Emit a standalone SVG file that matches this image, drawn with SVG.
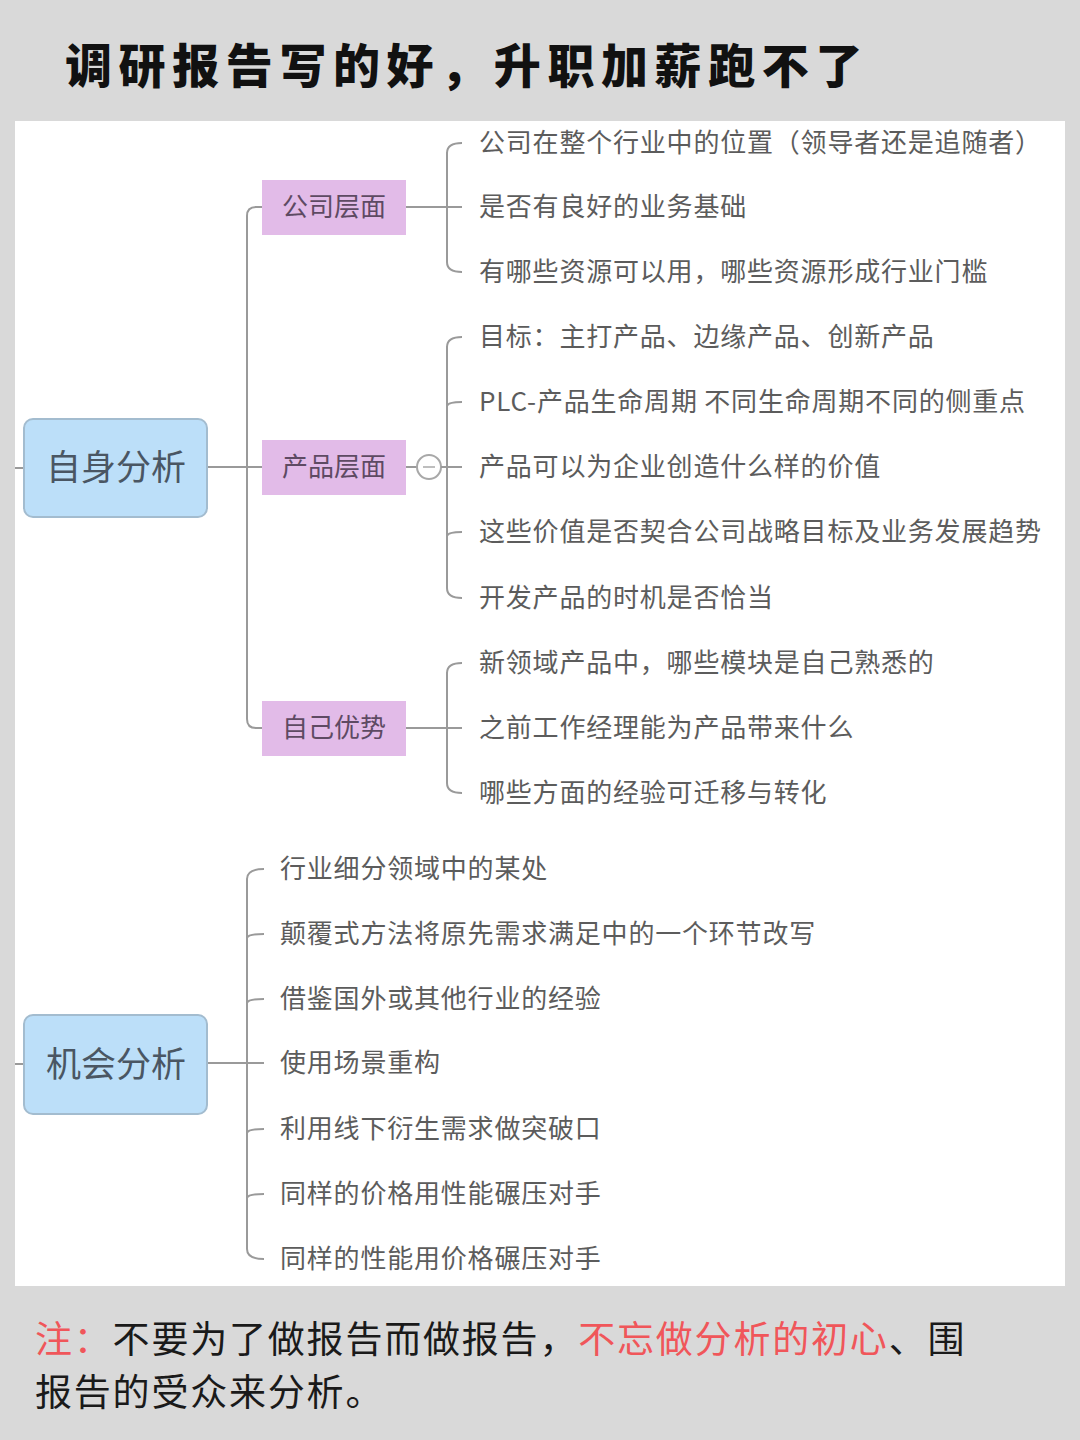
<svg xmlns="http://www.w3.org/2000/svg" width="1080" height="1440" viewBox="0 0 1080 1440">
<style>
.title{font-family:"Noto Sans CJK SC","Noto Sans",sans-serif;font-weight:900;font-size:47px;fill:#111;letter-spacing:6.6px}
.root{fill:#bcdff9;stroke:#a3bccf;stroke-width:2}
.rootT{font-family:"Noto Sans CJK SC","Noto Sans",sans-serif;font-size:35px;fill:#4a5663;text-anchor:middle}
.sub{fill:#e2bbe8}
.subT{font-family:"Noto Sans CJK SC","Noto Sans",sans-serif;font-size:26px;fill:#5e4a63;text-anchor:middle}
.leaf{font-family:"Noto Sans CJK SC","Noto Sans",sans-serif;font-size:26px;fill:#5c5c5c;letter-spacing:0.8px}
.ln{fill:none;stroke:#9a9a9a;stroke-width:2}
.note{font-family:"Noto Sans CJK SC","Noto Sans",sans-serif;font-size:37px;fill:#1a1a1a;letter-spacing:1.8px}
.red{fill:#f0565a}
</style>
<rect x="0" y="0" width="1080" height="1440" fill="#d9d9d9"/>
<rect x="15" y="121" width="1050" height="1165" fill="#ffffff"/>
<text class="title" x="65" y="83">调研报告写的好，升职加薪跑不了</text>

<g id="connectors">
  <path class="ln" d="M15,468 H24"/>
  <path class="ln" d="M207,467 H262"/>
  <path class="ln" d="M262,207 H256 Q247,207 247,216 V719 Q247,728 256,728 H262"/>
  <path class="ln" d="M406,207 H462"/>
  <path class="ln" d="M462,143 Q447,143 447,153 V262 Q447,272 462,272"/>
  <path class="ln" d="M406,467 H417"/>
  <circle cx="429" cy="467" r="12" fill="#fff" stroke="#a8a8a8" stroke-width="2"/>
  <path d="M423,467 H435" stroke="#a8a8a8" stroke-width="1.5"/>
  <path class="ln" d="M441,467 H462"/>
  <path class="ln" d="M462,337 Q447,337 447,347 V588 Q447,598 462,598"/>
  <path class="ln" d="M447,406 Q448,402 462,402 M447,536 Q448,532 462,532"/>
  <path class="ln" d="M406,728 H462"/>
  <path class="ln" d="M462,663 Q447,663 447,673 V783 Q447,793 462,793"/>
  <path class="ln" d="M15,1064 H24"/>
  <path class="ln" d="M207,1063 H264"/>
  <path class="ln" d="M264,869 Q247,869 247,879 V1249 Q247,1259 264,1259"/>
  <path class="ln" d="M247,938 Q248,934 264,934 M247,1003 Q248,999 264,999 M247,1133 Q248,1129 264,1129 M247,1198 Q248,1194 264,1194"/>
</g>

<g id="root-self">
  <rect class="root" x="24" y="419" width="183" height="98" rx="9"/>
  <text class="rootT" x="116" y="480">自身分析</text>
</g>
<g id="sub-company">
  <rect class="sub" x="262" y="180" width="144" height="55"/>
  <text class="subT" x="334" y="216">公司层面</text>
</g>
<g id="sub-product">
  <rect class="sub" x="262" y="440" width="144" height="55"/>
  <text class="subT" x="334" y="476">产品层面</text>
</g>
<g id="sub-self">
  <rect class="sub" x="262" y="701" width="144" height="55"/>
  <text class="subT" x="334" y="737">自己优势</text>
</g>
<g id="leaves-company">
  <text class="leaf" x="479" y="152">公司在整个行业中的位置（领导者还是追随者）</text>
  <text class="leaf" x="479" y="216">是否有良好的业务基础</text>
  <text class="leaf" x="479" y="281">有哪些资源可以用，哪些资源形成行业门槛</text>
</g>
<g id="leaves-product">
  <text class="leaf" x="479" y="346">目标：主打产品、边缘产品、创新产品</text>
  <text class="leaf" x="479" y="411">PLC-产品生命周期 不同生命周期不同的侧重点</text>
  <text class="leaf" x="479" y="476">产品可以为企业创造什么样的价值</text>
  <text class="leaf" x="479" y="541">这些价值是否契合公司战略目标及业务发展趋势</text>
  <text class="leaf" x="479" y="607">开发产品的时机是否恰当</text>
</g>
<g id="leaves-self">
  <text class="leaf" x="479" y="672">新领域产品中，哪些模块是自己熟悉的</text>
  <text class="leaf" x="479" y="737">之前工作经理能为产品带来什么</text>
  <text class="leaf" x="479" y="802">哪些方面的经验可迁移与转化</text>
</g>

<g id="root-opportunity">
  <rect class="root" x="24" y="1015" width="183" height="99" rx="9"/>
  <text class="rootT" x="116" y="1077">机会分析</text>
</g>
<g id="leaves-opportunity">
  <text class="leaf" x="280" y="878">行业细分领域中的某处</text>
  <text class="leaf" x="280" y="943">颠覆式方法将原先需求满足中的一个环节改写</text>
  <text class="leaf" x="280" y="1008">借鉴国外或其他行业的经验</text>
  <text class="leaf" x="280" y="1072">使用场景重构</text>
  <text class="leaf" x="280" y="1138">利用线下衍生需求做突破口</text>
  <text class="leaf" x="280" y="1203">同样的价格用性能碾压对手</text>
  <text class="leaf" x="280" y="1268">同样的性能用价格碾压对手</text>
</g>

<text class="note" x="35" y="1353"><tspan class="red">注：</tspan>不要为了做报告而做报告，<tspan class="red">不忘做分析的初心</tspan>、围</text>
<text class="note" x="35" y="1406">报告的受众来分析。</text>
</svg>
